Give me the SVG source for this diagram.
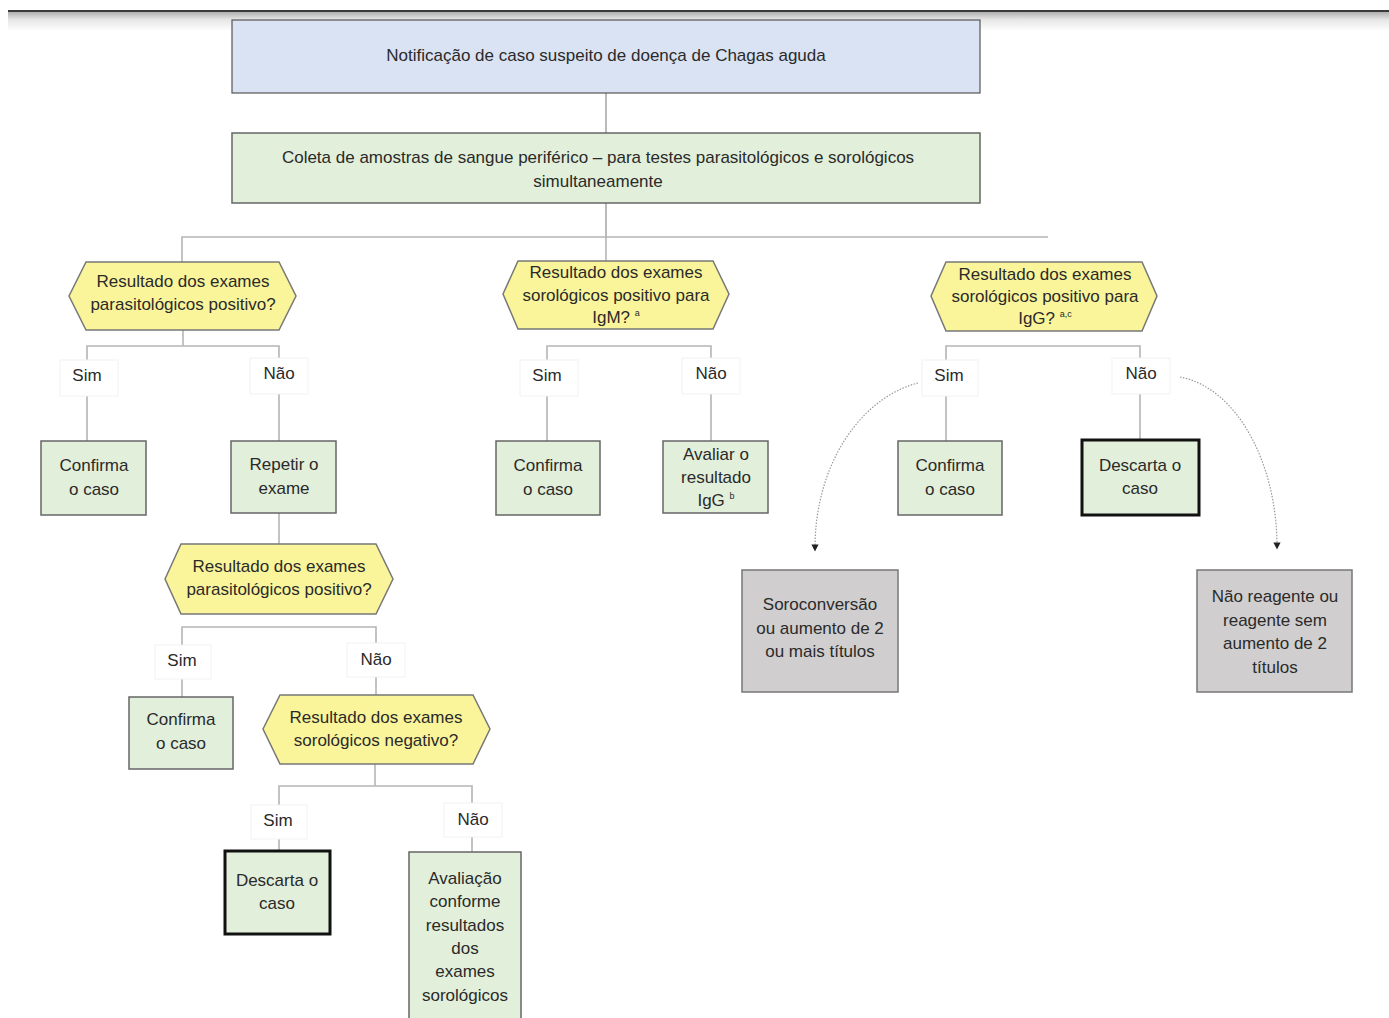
<svg xmlns="http://www.w3.org/2000/svg" width="1389" height="1018" viewBox="0 0 1389 1018">
<defs>
<linearGradient id="shade" x1="0" y1="0" x2="0" y2="1">
<stop offset="0" stop-color="#b0b0b0"/>
<stop offset="0.4" stop-color="#e6e6e6"/>
<stop offset="1" stop-color="#ffffff"/>
</linearGradient>
<marker id="arr" viewBox="0 0 6 6" refX="3" refY="3" markerWidth="6" markerHeight="6" orient="auto">
<path d="M0,0 L6,3 L0,6 z" fill="#222"/>
</marker>
<style>
text{font-family:"Liberation Sans",Arial,sans-serif;font-size:17px;fill:#2a2a2a;text-anchor:middle;dominant-baseline:middle}
.blue{fill:#dae3f3;stroke:#555;stroke-width:1.2}
.green{fill:#e2efda;stroke:#666;stroke-width:1.5}
.hex{fill:#faf59a;stroke:#777;stroke-width:1.5}
.gray{fill:#d0cece;stroke:#777;stroke-width:1.5}
.thick{fill:#e2efda;stroke:#111;stroke-width:3}
.lbl{fill:#fff;stroke:#f2f2f2;stroke-width:1}
.ln{fill:none;stroke:#b5b5b5;stroke-width:1.6}
.lnd{fill:none;stroke:#777;stroke-width:1}
.dot{fill:none;stroke:#999;stroke-width:1.2;stroke-dasharray:1.5 1.5}
.sup{font-size:9px}
</style>
</defs>
<rect x="0" y="0" width="1389" height="1018" fill="#fff"/>
<rect x="8" y="12" width="1381" height="19" fill="url(#shade)"/>
<rect x="8" y="10" width="1381" height="2" fill="#3a3a3a"/>

<g id="connectors">
<line class="lnd" x1="606" y1="93" x2="606" y2="133"/>
<line class="lnd" x1="606" y1="203" x2="606" y2="237"/>
<polyline class="ln" points="182,262 182,237 1048,237"/>
<line class="ln" x1="606" y1="237" x2="606" y2="261"/>
<line class="ln" x1="183" y1="330" x2="183" y2="346"/>
<polyline class="ln" points="87,441 87,346 279,346 279,441"/>
<polyline class="ln" points="547,441 547,346 711,346 711,441"/>
<polyline class="ln" points="946,441 946,346 1140,346 1140,440"/>
<line class="ln" x1="279" y1="513" x2="279" y2="544"/>
<polyline class="ln" points="182,697 182,627 376,627 376,695"/>
<line class="ln" x1="375" y1="764" x2="375" y2="786"/>
<polyline class="ln" points="279,851 279,786 472,786 472,852"/>
<path class="dot" d="M918,383 C860,398 815,465 815,548" marker-end="url(#arr)"/>
<path class="dot" d="M1180,377 C1238,388 1277,465 1277,546" marker-end="url(#arr)"/>
</g>

<g id="labels">
<rect class="lbl" x="60" y="360" width="58" height="36"/><text x="87" y="377">Sim</text>
<rect class="lbl" x="250" y="358" width="58" height="36"/><text x="279" y="375">Não</text>
<rect class="lbl" x="520" y="360" width="58" height="36"/><text x="547" y="377">Sim</text>
<rect class="lbl" x="682" y="358" width="58" height="36"/><text x="711" y="375">Não</text>
<rect class="lbl" x="922" y="360" width="56" height="36"/><text x="949" y="377">Sim</text>
<rect class="lbl" x="1112" y="358" width="58" height="36"/><text x="1141" y="375">Não</text>
<rect class="lbl" x="155" y="645" width="56" height="34"/><text x="182" y="662">Sim</text>
<rect class="lbl" x="347" y="643" width="58" height="34"/><text x="376" y="661">Não</text>
<rect class="lbl" x="251" y="805" width="56" height="34"/><text x="278" y="822">Sim</text>
<rect class="lbl" x="444" y="803" width="58" height="34"/><text x="473" y="821">Não</text>
</g>

<g id="n1"><rect class="blue" x="232" y="20" width="748" height="73"/><text x="606" y="57">Notificação de caso suspeito de doença de Chagas aguda</text></g>
<g id="n2"><rect class="green" x="232" y="133" width="748" height="70"/><text x="598" y="159">Coleta de amostras de sangue periférico – para testes parasitológicos e sorológicos</text><text x="598" y="183">simultaneamente</text></g>

<g id="h1"><polygon class="hex" points="69,296 86,262 279,262 296,296 279,330 86,330"/><text x="183" y="283">Resultado dos exames</text><text x="183" y="306">parasitológicos positivo?</text></g>
<g id="h2"><polygon class="hex" points="503,294 518,261 713,261 729,294 713,329 518,329"/><text x="616" y="274">Resultado dos exames</text><text x="616" y="297">sorológicos positivo para</text><text x="616" y="319">IgM? <tspan class="sup" dy="-5">a</tspan></text></g>
<g id="h3"><polygon class="hex" points="931,296 946,262 1142,262 1157,296 1142,331 946,331"/><text x="1045" y="276">Resultado dos exames</text><text x="1045" y="298">sorológicos positivo para</text><text x="1045" y="320">IgG? <tspan class="sup" dy="-5">a,c</tspan></text></g>

<g id="b1"><rect class="green" x="41" y="441" width="105" height="74"/><text x="94" y="467">Confirma</text><text x="94" y="491">o caso</text></g>
<g id="b2"><rect class="green" x="231" y="441" width="105" height="72"/><text x="284" y="466">Repetir o</text><text x="284" y="490">exame</text></g>
<g id="b3"><rect class="green" x="496" y="441" width="104" height="74"/><text x="548" y="467">Confirma</text><text x="548" y="491">o caso</text></g>
<g id="b4"><rect class="green" x="663" y="441" width="105" height="72"/><text x="716" y="456">Avaliar o</text><text x="716" y="479">resultado</text><text x="716" y="502">IgG <tspan class="sup" dy="-5">b</tspan></text></g>
<g id="b5"><rect class="green" x="898" y="441" width="104" height="74"/><text x="950" y="467">Confirma</text><text x="950" y="491">o caso</text></g>
<g id="b6"><rect class="thick" x="1082" y="440" width="117" height="75"/><text x="1140" y="467">Descarta o</text><text x="1140" y="490">caso</text></g>

<g id="g1"><rect class="gray" x="742" y="570" width="156" height="122"/><text x="820" y="606">Soroconversão</text><text x="820" y="630">ou aumento de 2</text><text x="820" y="653">ou mais títulos</text></g>
<g id="g2"><rect class="gray" x="1197" y="570" width="155" height="122"/><text x="1275" y="598">Não reagente ou</text><text x="1275" y="622">reagente sem</text><text x="1275" y="645">aumento de 2</text><text x="1275" y="669">títulos</text></g>

<g id="h4"><polygon class="hex" points="165,579 181,544 376,544 393,579 376,614 181,614"/><text x="279" y="568">Resultado dos exames</text><text x="279" y="591">parasitológicos positivo?</text></g>
<g id="b7"><rect class="green" x="129" y="697" width="104" height="72"/><text x="181" y="721">Confirma</text><text x="181" y="745">o caso</text></g>
<g id="h5"><polygon class="hex" points="263,729 280,695 473,695 490,729 473,764 280,764"/><text x="376" y="719">Resultado dos exames</text><text x="376" y="742">sorológicos negativo?</text></g>
<g id="b8"><rect class="thick" x="225" y="851" width="105" height="83"/><text x="277" y="882">Descarta o</text><text x="277" y="905">caso</text></g>
<g id="b9"><rect class="green" x="409" y="852" width="112" height="180"/><text x="465" y="880">Avaliação</text><text x="465" y="903">conforme</text><text x="465" y="927">resultados</text><text x="465" y="950">dos</text><text x="465" y="973">exames</text><text x="465" y="997">sorológicos</text></g>
</svg>
